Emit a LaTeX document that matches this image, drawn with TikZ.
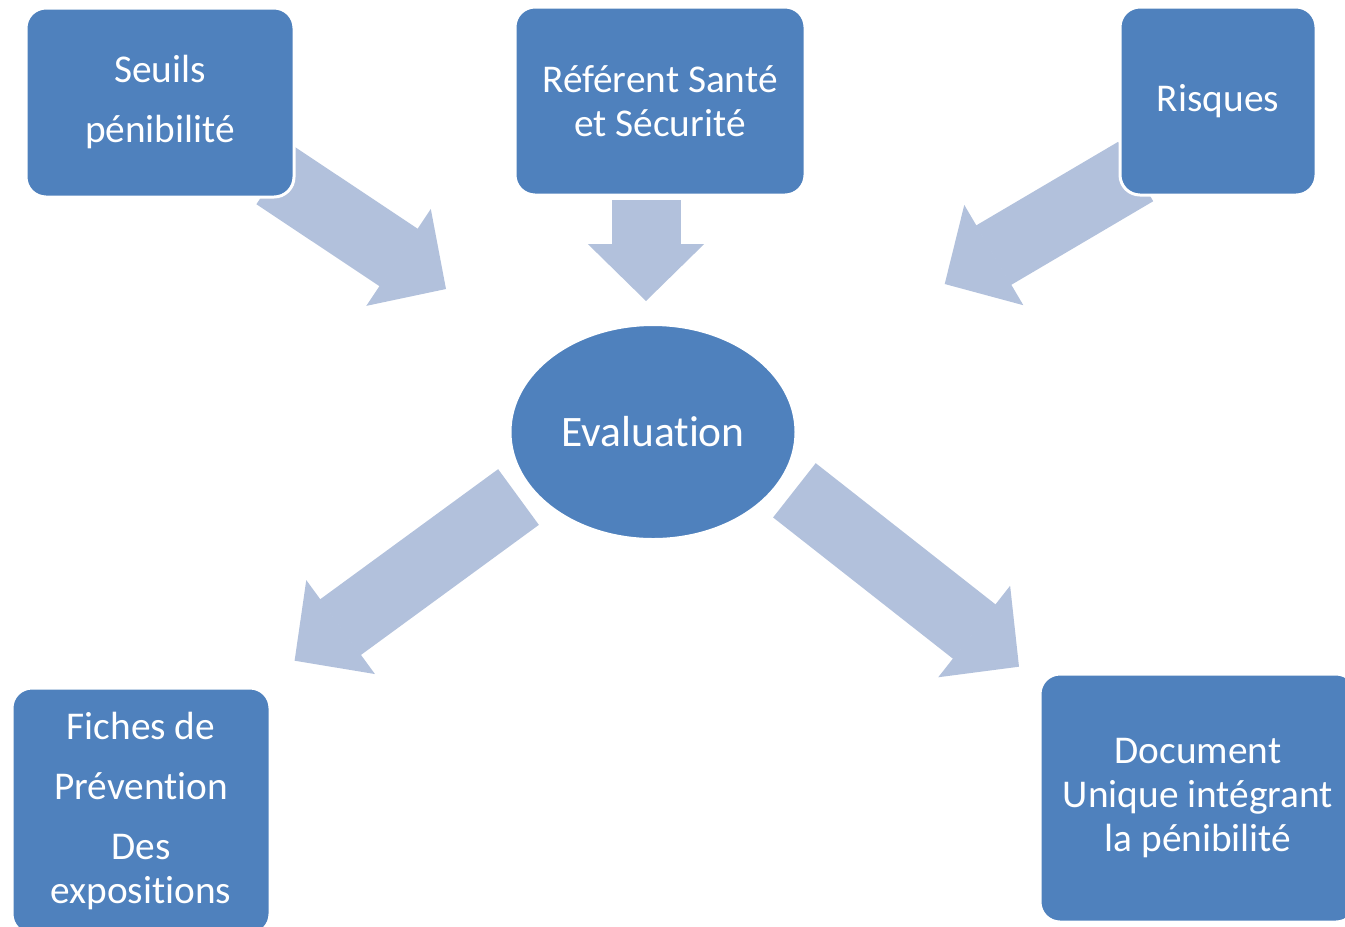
\documentclass[tikz,border=0pt]{standalone}
\usepackage{fontspec}
\setmainfont{Carlito}[Ligatures=NoCommon]
\usetikzlibrary{arrows.meta,shapes.geometric,backgrounds}
\definecolor{boxblue}{RGB}{79,129,189}
\definecolor{flowblue}{RGB}{178,193,220}

\begin{document}
\begin{tikzpicture}[x=0.75pt,y=-0.75pt,
    block/.style={rectangle, rounded corners=15pt, fill=boxblue, draw=white,
        line width=2.25pt, text=white, align=center, inner sep=0pt,
        font=\fontsize{29.5}{33}\selectfont},
    hub/.style={ellipse, fill=boxblue, draw=white, line width=2.25pt,
        text=white, inner sep=0pt, font=\fontsize{32.6}{36}\selectfont},
    flow/.style={draw=flowblue, line width=51.75pt,
        -{Triangle[length=42.75pt,width=87pt,line width=1.5pt]}}
]
\useasboundingbox (0,0) rectangle (1345,926);

% boxes
\node[block, minimum width=201pt, minimum height=141.75pt] (seuils) at (160,102.5)
    {Seuils\\[12pt]pénibilité};
\node[block, minimum width=217.5pt, minimum height=141pt] (referent) at (660,101)
    {Référent Santé\\et Sécurité};
\node[block, minimum width=147pt, minimum height=141pt] (risques) at (1218,101)
    {Risques};
\node[hub, minimum width=214.5pt, minimum height=161.25pt] (eval) at (653,432)
    {Evaluation};
\node[block, minimum width=193.5pt, minimum height=184.5pt] (fiches) at (141,811)
    {Fiches de\\[12pt]Prévention\\[12pt]Des\\expositions};
\node[block, minimum width=237pt, minimum height=186pt] (document) at (1198,798)
    {Document\\Unique intégrant\\la pénibilité};

% arrow ends
\coordinate (seuils-out) at (275.5,175.5);
\coordinate (eval-in1) at (446,289);
\coordinate (referent-out) at (646,200);
\coordinate (eval-in2) at (646,301);
\coordinate (risques-out) at (1135.7,171.5);
\coordinate (eval-in3) at (944.7,284);
\coordinate (eval-out1) at (518.5,497);
\coordinate (fiches-in) at (294.6,660.7);
\coordinate (eval-out2) at (794.4,490.3);
\coordinate (document-in) at (1019,666.7);

\begin{scope}[on background layer]
\draw[flow] (seuils-out) -- (eval-in1);
\draw[flow] (referent-out) -- (eval-in2);
\draw[flow] (risques-out) -- (eval-in3);
\draw[flow] (eval-out1) -- (fiches-in);
\draw[flow] (eval-out2) -- (document-in);
\end{scope}
\end{tikzpicture}
\end{document}
